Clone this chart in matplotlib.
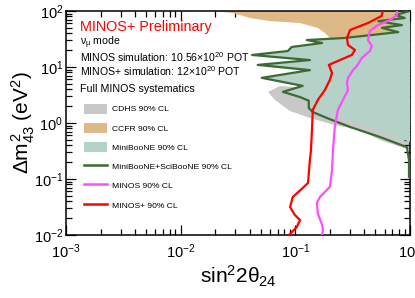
"""
plot.py - MINOS+ sterile neutrino sensitivity (Δm²43 vs sin²2θ24).
"""

import matplotlib
matplotlib.use("Agg")  # headless
import matplotlib.pyplot as plt
from matplotlib.lines import Line2D
from matplotlib.patches import Patch
from matplotlib.ticker import LogFormatterMathtext, LogLocator, NullFormatter

plt.rcParams["font.family"] = ["Liberation Sans", "DejaVu Sans"]
plt.rcParams["mathtext.fontset"] = "custom"
plt.rcParams["mathtext.rm"] = "Liberation Sans"
plt.rcParams["mathtext.it"] = "Liberation Sans"
plt.rcParams["mathtext.bf"] = "Liberation Sans:bold"

# ============================================================
# Data
# ============================================================

# MINOS+ 90% CL
minos_plus_x = [0.58, 0.565, 0.43, 0.30, 0.282, 0.288, 0.331, 0.311, 0.245, 0.196,
                0.209, 0.200, 0.181, 0.157, 0.142, 0.140, 0.137, 0.134, 0.129,
                0.116, 0.095, 0.090, 0.099, 0.110, 0.103, 0.088]
minos_plus_y = [100, 81.5, 61, 45.8, 33, 24.7, 20.1, 16.4, 13.3, 10.9,
                7.8, 5.87, 3.88, 2.57, 1.71, 0.85, 0.33, 0.218, 0.085,
                0.069, 0.0477, 0.0316, 0.0228, 0.0185, 0.0139, 0.01]

# MINOS 90% CL
minos_x = [0.77, 0.77, 0.668, 0.525, 0.447, 0.430, 0.465, 0.447, 0.381, 0.344,
           0.318, 0.288, 0.282, 0.288, 0.260, 0.235, 0.221, 0.213, 0.209,
           0.200, 0.164, 0.154, 0.157, 0.171, 0.174, 0.171]
minos_y = [100, 84.8, 69, 56.2, 43.9, 30.3, 23.7, 19.3, 14.5, 10.4,
           8.8, 6.35, 5.2, 3.88, 2.57, 1.71, 0.85, 0.33, 0.144,
           0.0723, 0.0477, 0.0372, 0.0245, 0.0152, 0.0123, 0.01]

# MiniBooNE+SciBooNE 90% CL
mbsb_x = [1.0, 0.75, 0.90, 0.53, 0.85, 0.57, 0.79, 0.27, 0.126, 0.171,
          0.093, 0.086, 0.042, 0.134, 0.047, 0.134, 0.051, 0.116, 0.078, 0.110,
          0.131, 0.131, 0.142, 0.188, 0.30, 0.55, 0.94, 0.98, 0.98]
mbsb_y = [100, 85, 75, 66, 56, 50, 42, 33, 30.3, 26.8,
          22.8, 19.3, 16.4, 13.3, 10.9, 8.8, 6.4, 4.6, 3.6, 2.9,
          2.5, 1.85, 1.57, 1.23, 0.85, 0.56, 0.37, 0.22, 0.11]

# MiniBooNE 90% CL (filled region)
miniboone_x = [1.0, 0.75, 0.90, 0.53, 0.85, 0.57, 0.79, 0.27, 0.124, 0.171,
               0.093, 0.086, 0.040, 0.134, 0.045, 0.134, 0.049, 0.116, 0.078, 0.110,
               0.131, 0.131, 0.174, 0.344, 0.668, 1.0]
miniboone_y = [100, 85, 75, 66, 56, 50, 42, 33, 30.3, 26.8,
               22.8, 19.3, 16.4, 13.3, 10.9, 8.8, 6.4, 4.6, 3.6, 2.9,
               2.5, 1.85, 1.39, 1.04, 0.61, 0.458]

# CCFR 90% CL (filled region)
ccfr_x = [0.0191, 1.0, 1.0, 0.245, 0.200, 0.181, 0.157, 0.110, 0.060, 0.0402, 0.0286]
ccfr_y = [100, 100, 29.2, 29.2, 33, 40.5, 49.7, 61, 66, 75, 92]

# CDHS 90% CL (filled region)
cdhs_x = [0.0577, 0.0734, 0.134, 1.0, 1.0, 0.547, 0.366, 0.221, 0.134, 0.0897, 0.0664]
cdhs_y = [3.58, 4.58, 4.22, 13.3, 0.33, 0.497, 0.75, 0.92, 1.23, 1.64, 2.58]

# ============================================================
# Figure
# ============================================================

C_CDHS = "#c8c8c8"
C_CCFR = "#ddb987"
C_MB = "#b4d2c7"
C_MBSB = "#3b6a33"
C_MINOS = "#ff4cff"
C_MINOSP = "#ff0000"

fig = plt.figure(figsize=(4.15, 2.98), dpi=100)
ax = fig.add_axes([66 / 415, 1 - 235 / 298, 344 / 415, 224 / 298])

ax.fill(cdhs_x, cdhs_y, color=C_CDHS, lw=0, zorder=1)
ax.fill(ccfr_x, ccfr_y, color=C_CCFR, lw=0, zorder=2)
ax.fill(miniboone_x, miniboone_y, color=C_MB, lw=0, zorder=3)
ax.plot(mbsb_x, mbsb_y, color=C_MBSB, lw=1.6, zorder=4)
ax.plot(minos_x, minos_y, color=C_MINOS, lw=1.6, zorder=5)
ax.plot(minos_plus_x, minos_plus_y, color=C_MINOSP, lw=1.6, zorder=6)

ax.set_xscale("log")
ax.set_yscale("log")
ax.set_xlim(1e-3, 1)
ax.set_ylim(1e-2, 1e2)

for axis in (ax.xaxis, ax.yaxis):
    axis.set_major_locator(LogLocator(base=10))
    axis.set_minor_locator(LogLocator(base=10, subs=range(2, 10)))
    axis.set_major_formatter(LogFormatterMathtext())
    axis.set_minor_formatter(NullFormatter())
ax.tick_params(which="both", direction="in", top=True, right=True,
               labelsize=10.5, width=0.9)
ax.tick_params(which="major", length=7)
ax.tick_params(which="minor", length=4)
ax.tick_params(axis="y", pad=2)
ax.tick_params(axis="x", pad=5)
for sp in ax.spines.values():
    sp.set_linewidth(1.1)

ax.set_xlabel(r"$\sin^{2}\!2\theta_{24}$", fontsize=15, labelpad=2)
ax.set_ylabel(r"$\Delta m^{2}_{43}$ (eV$^{2}$)", fontsize=15)
ax.yaxis.set_label_coords(-0.085, 0.5)

# annotations
fig.text(80 / 415, 0.897, "MINOS+ Preliminary", color="red", fontsize=10.4)
fig.text(80 / 415, 0.847, r"$\nu_{\mu}$ mode", fontsize=7.6)
fig.text(80 / 415, 0.793, r"MINOS simulation: 10.56$\times$10$^{20}$ POT", fontsize=7.6)
fig.text(80 / 415, 0.745, r"MINOS+ simulation: 12$\times$10$^{20}$ POT", fontsize=7.6)
fig.text(80 / 415, 0.690, "Full MINOS systematics", fontsize=7.7)

handles = [
    Patch(facecolor=C_CDHS, edgecolor="none", label="CDHS 90% CL"),
    Patch(facecolor=C_CCFR, edgecolor="none", label="CCFR 90% CL"),
    Patch(facecolor=C_MB, edgecolor="none", label="MiniBooNE 90% CL"),
    Line2D([], [], color=C_MBSB, lw=1.8, label="MiniBooNE+SciBooNE 90% CL"),
    Line2D([], [], color=C_MINOS, lw=1.8, label="MINOS 90% CL"),
    Line2D([], [], color=C_MINOSP, lw=1.8, label="MINOS+ 90% CL"),
]
ax.legend(handles=handles, loc="upper left", bbox_to_anchor=(84 / 415, 1 - 103.5 / 298),
          bbox_transform=fig.transFigure, frameon=False, fontsize=6.1,
          borderpad=0, borderaxespad=0, handlelength=2.7, handleheight=1.5,
          labelspacing=1.05, handletextpad=0.6)

fig.savefig("out.png", dpi=100)
